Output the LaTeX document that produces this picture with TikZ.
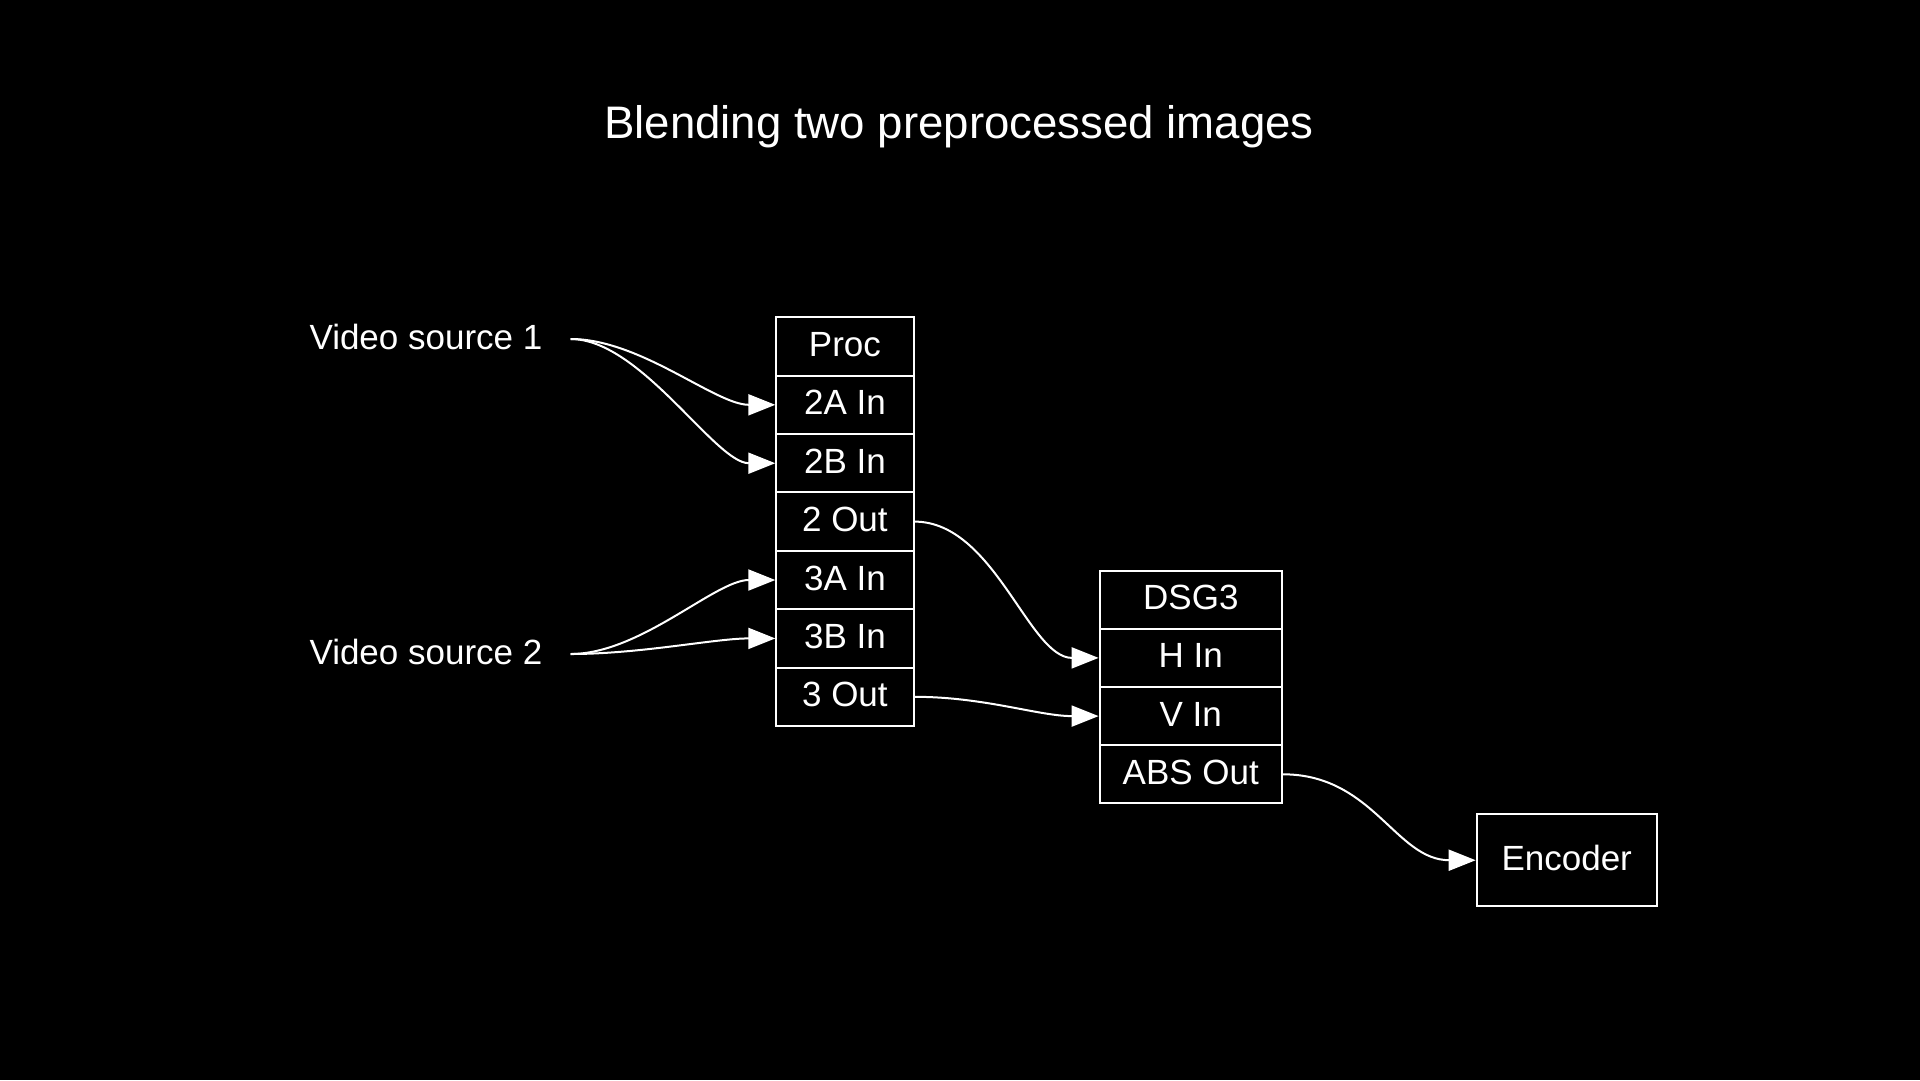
\documentclass[tikz,border=0pt]{standalone}
\usepackage{fontspec}
\setmainfont{Liberation Sans}
\usetikzlibrary{arrows.meta}
\begin{document}
\begin{tikzpicture}[x=1pt,y=-1pt,
  lbl/.style={text=white,font=\fontsize{35}{40}\selectfont,text height=25pt,text depth=5pt},
  cell/.style={lbl,draw=white,line width=2pt,inner sep=0pt,minimum height=58.4pt},
  pcell/.style={cell,minimum width=137.2pt},
  dcell/.style={cell,minimum width=182.4pt,minimum height=58.2pt},
  conn/.style={draw=white,line width=2pt,-{Triangle[length=27pt,width=21pt]}}]
\fill[black] (0,0) rectangle (1920,1080);
\useasboundingbox (0,0) rectangle (1920,1080);
\node[text=white,font=\fontsize{45.6}{52}\selectfont] (title) at (959,126.5) {Blending two preprocessed images};
% Proc
\node[pcell] (proc) at (844.9,346.4) {Proc};
\node[pcell] (p2a) at (844.9,404.8) {2A In};
\node[pcell] (p2b) at (844.9,463.2) {2B In};
\node[pcell] (p2o) at (844.9,521.6) {2 Out};
\node[pcell] (p3a) at (844.9,580.0) {3A In};
\node[pcell] (p3b) at (844.9,638.4) {3B In};
\node[pcell] (p3o) at (844.9,696.8) {3 Out};
% DSG3
\node[dcell] (dsg) at (1190.8,599.7) {DSG3};
\node[dcell] (hin) at (1190.8,657.9) {H In};
\node[dcell] (vin) at (1190.8,716.1) {V In};
\node[dcell] (abs) at (1190.8,774.3) {ABS Out};
% Encoder
\node[cell,minimum width=180pt,minimum height=91.8pt] (enc) at (1566.7,860.2) {Encoder};
% sources
\node[lbl,anchor=east,inner xsep=28pt,inner ysep=0pt] (vs1) at (570.6,339) {Video source 1};
\node[lbl,anchor=east,inner xsep=28pt,inner ysep=0pt] (vs2) at (570.6,654) {Video source 2};
% connectors
\draw[conn] (vs1.east) .. controls +(70,0) and +(-60,0) .. (p2a.west);
\draw[conn] (vs1.east) .. controls +(70,0) and +(-60,0) .. (p2b.west);
\draw[conn] (vs2.east) .. controls +(70,0) and +(-60,0) .. (p3a.west);
\draw[conn] (vs2.east) .. controls +(70,0) and +(-60,0) .. (p3b.west);
\draw[conn] (p2o.east) .. controls +(80,0) and +(-70,0) .. (hin.west);
\draw[conn] (p3o.east) .. controls +(70,0) and +(-60,0) .. (vin.west);
\draw[conn] (abs.east) .. controls +(90,0) and +(-80,0) .. (enc.west);
\end{tikzpicture}
\end{document}
